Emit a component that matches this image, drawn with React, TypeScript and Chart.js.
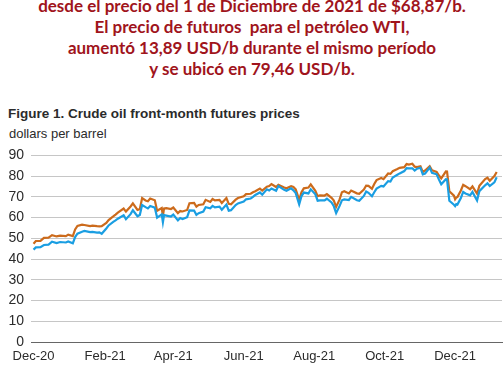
import React, { useEffect, useRef } from "react";
import { Chart, registerables } from "chart.js";

Chart.register(...registerables);

const headlineLines = [
  "desde el precio del 1 de Diciembre de 2021 de $68,87/b.",
  "El precio de futuros  para el petróleo WTI,",
  "aumentó 13,89 USD/b durante el mismo período",
  "y se ubicó en 79,46 USD/b.",
];
const figureTitle = "Figure 1. Crude oil front-month futures prices";
const unitLabel = "dollars per barrel";

const tickDates = ["2020-12-01", "2021-02-01", "2021-04-01", "2021-06-01", "2021-08-01", "2021-10-01", "2021-12-01"];
const tickLabels = ["Dec-20", "Feb-21", "Apr-21", "Jun-21", "Aug-21", "Oct-21", "Dec-21"];
const yTicks = [0, 10, 20, 30, 40, 50, 60, 70, 80, 90];

const dates = [
  "2020-12-01", "2020-12-03", "2020-12-07", "2020-12-10", "2020-12-14", "2020-12-17", "2020-12-21", "2020-12-24", "2020-12-29", "2020-12-31",
  "2021-01-04", "2021-01-06", "2021-01-08", "2021-01-12", "2021-01-14", "2021-01-19", "2021-01-21", "2021-01-25", "2021-01-27", "2021-01-29",
  "2021-02-02", "2021-02-04", "2021-02-08", "2021-02-10", "2021-02-12", "2021-02-17", "2021-02-19", "2021-02-23", "2021-02-25",
  "2021-03-01", "2021-03-03", "2021-03-05", "2021-03-08", "2021-03-10", "2021-03-12", "2021-03-16", "2021-03-18", "2021-03-22", "2021-03-23", "2021-03-24", "2021-03-26", "2021-03-30",
  "2021-04-01", "2021-04-05", "2021-04-07", "2021-04-09", "2021-04-13", "2021-04-15", "2021-04-19", "2021-04-21", "2021-04-23", "2021-04-27", "2021-04-29",
  "2021-05-03", "2021-05-05", "2021-05-07", "2021-05-11", "2021-05-13", "2021-05-17", "2021-05-19", "2021-05-21", "2021-05-25", "2021-05-27",
  "2021-06-01", "2021-06-03", "2021-06-07", "2021-06-09", "2021-06-11", "2021-06-15", "2021-06-17", "2021-06-21", "2021-06-23", "2021-06-25", "2021-06-29",
  "2021-07-01", "2021-07-06", "2021-07-08", "2021-07-12", "2021-07-14", "2021-07-16", "2021-07-19", "2021-07-21", "2021-07-23", "2021-07-27", "2021-07-29",
  "2021-08-02", "2021-08-04", "2021-08-06", "2021-08-10", "2021-08-12", "2021-08-16", "2021-08-18", "2021-08-20", "2021-08-23", "2021-08-25", "2021-08-27", "2021-08-31",
  "2021-09-02", "2021-09-07", "2021-09-09", "2021-09-13", "2021-09-15", "2021-09-17", "2021-09-20", "2021-09-22", "2021-09-24", "2021-09-28", "2021-09-30",
  "2021-10-04", "2021-10-06", "2021-10-08", "2021-10-12", "2021-10-14", "2021-10-18", "2021-10-20", "2021-10-22", "2021-10-25", "2021-10-27", "2021-10-29",
  "2021-11-01", "2021-11-03", "2021-11-05", "2021-11-09", "2021-11-11", "2021-11-15", "2021-11-17", "2021-11-19", "2021-11-23", "2021-11-24", "2021-11-26", "2021-11-30",
  "2021-12-01", "2021-12-02", "2021-12-03", "2021-12-06", "2021-12-08", "2021-12-10", "2021-12-14", "2021-12-16", "2021-12-20", "2021-12-22", "2021-12-27", "2021-12-29", "2021-12-31",
  "2022-01-04", "2022-01-06",
];

const brent = [
  47.42, 48.71, 48.79, 50.25, 50.29, 51.5, 50.91, 51.29, 51.09, 51.8,
  51.09, 54.3, 55.99, 56.58, 56.42, 55.9, 56.1, 55.88, 55.81, 55.88,
  57.46, 58.84, 60.56, 61.47, 62.43, 64.34, 62.91, 65.37, 66.88,
  63.69, 64.07, 69.36, 68.24, 67.9, 69.22, 68.39, 63.28, 64.62, 60.79, 64.41, 64.57, 64.14,
  64.86, 62.15, 63.16, 62.95, 63.67, 66.94, 67.05, 65.32, 66.11, 66.42, 68.56,
  67.56, 68.96, 68.28, 68.55, 67.05, 69.46, 66.66, 66.44, 68.65, 69.46,
  70.25, 71.31, 71.49, 72.22, 72.69, 73.99, 73.08, 74.9, 75.19, 76.18, 74.76,
  75.84, 74.53, 74.12, 75.16, 74.76, 73.59, 68.62, 72.23, 74.1, 74.48, 76.05,
  72.89, 70.38, 70.7, 70.63, 71.31, 69.51, 68.23, 65.18, 68.75, 72.25, 72.7, 71.63,
  73.03, 71.69, 71.45, 73.51, 75.46, 75.34, 73.92, 76.19, 78.09, 79.09, 78.52,
  81.26, 81.08, 82.39, 83.42, 84.0, 84.33, 85.82, 85.53, 85.99, 84.58, 84.38,
  84.71, 81.99, 82.74, 84.78, 82.87, 82.05, 80.28, 78.89, 82.31, 82.25, 72.72, 70.57,
  68.87, 69.67, 69.88, 73.08, 75.82, 75.15, 73.7, 75.02, 71.52, 75.29, 78.6, 79.23, 77.78,
  80.0, 81.99,
];

const wti = [
  44.55, 45.64, 45.76, 46.78, 46.99, 48.36, 47.74, 48.23, 48.0, 48.52,
  47.62, 50.63, 52.24, 53.21, 53.57, 52.98, 53.13, 52.77, 52.85, 52.2,
  54.76, 56.23, 57.97, 58.68, 59.47, 61.14, 59.24, 61.67, 63.53,
  60.64, 61.28, 66.09, 65.05, 64.44, 65.61, 64.8, 60.0, 61.55, 57.76, 61.18, 60.97, 60.55,
  61.45, 58.65, 59.77, 59.32, 60.18, 63.46, 63.38, 61.35, 62.14, 62.94, 65.01,
  64.49, 65.63, 64.9, 65.28, 63.82, 66.27, 63.36, 63.58, 66.07, 66.85,
  67.72, 68.81, 69.23, 69.96, 70.91, 72.12, 71.04, 73.66, 73.08, 74.05, 72.98,
  75.23, 73.37, 72.94, 74.1, 73.13, 71.81, 66.42, 70.3, 72.07, 71.65, 73.62,
  71.26, 68.15, 68.28, 68.29, 69.09, 67.29, 65.46, 62.14, 65.64, 68.36, 68.74, 68.5,
  69.99, 68.35, 68.14, 70.45, 72.61, 71.97, 70.29, 72.23, 73.98, 75.29, 75.03,
  77.62, 77.43, 79.35, 80.64, 81.31, 82.44, 83.87, 83.76, 83.76, 82.66, 83.57,
  84.05, 80.86, 81.27, 84.15, 81.59, 80.88, 78.36, 76.1, 78.5, 78.39, 68.15, 66.18,
  65.57, 66.5, 66.26, 69.49, 72.36, 71.67, 70.73, 72.38, 68.23, 72.76, 75.57, 76.56, 75.21,
  76.99, 79.46,
];

const BASE = Date.UTC(2020, 11, 1);
function dayOf(s: string): number {
  const [y, m, d] = s.split("-").map(Number);
  return Math.round((Date.UTC(y, m - 1, d) - BASE) / 86400000);
}

export default function App() {
  const ref = useRef<HTMLCanvasElement | null>(null);

  useEffect(() => {
    document.body.style.margin = "0";
    if (!ref.current) return;
    const days = dates.map(dayOf);
    const tickDays = tickDates.map(dayOf);
    const chart = new Chart(ref.current, {
      type: "line",
      data: {
        datasets: [
          {
            label: "WTI",
            data: days.map((d, i) => ({ x: d, y: wti[i] })),
            borderColor: "#1a9ee2",
            borderWidth: 2.2,
            pointRadius: 0,
            tension: 0,
            fill: false,
          },
          {
            label: "Brent",
            data: days.map((d, i) => ({ x: d, y: brent[i] })),
            borderColor: "#cc6b1c",
            borderWidth: 2.2,
            pointRadius: 0,
            tension: 0,
            fill: false,
          },
        ],
      },
      options: {
        animation: false,
        responsive: false,
        maintainAspectRatio: false,
        layout: { padding: { top: 9, right: 2, left: 0, bottom: 0 } },
        plugins: { legend: { display: false }, tooltip: { enabled: false }, title: { display: false } },
        scales: {
          x: {
            type: "linear",
            min: -2.2,
            max: 405.6,
            afterBuildTicks: (scale: any) => {
              scale.ticks = tickDays.map((v) => ({ value: v }));
            },
            afterFit: (scale: any) => {
              scale.height = 34;
            },
            grid: { display: false, drawTicks: false },
            border: { display: true, color: "#666666", width: 1 },
            ticks: {
              autoSkip: false,
              maxRotation: 0,
              padding: 7,
              color: "#2b2b2b",
              font: { family: "Liberation Sans, Arial, sans-serif", size: 13 },
              callback: (v: any) => {
                const i = tickDays.indexOf(Number(v));
                return i >= 0 ? tickLabels[i] : "";
              },
            },
          },
          y: {
            min: 0,
            max: 90,
            afterBuildTicks: (scale: any) => {
              scale.ticks = yTicks.map((v) => ({ value: v }));
            },
            afterFit: (scale: any) => {
              scale.width = 31;
            },
            grid: {
              drawTicks: false,
              color: (ctx: any) => (ctx.tick && ctx.tick.value === 0 ? "#666666" : "#c6c6c6"),
              lineWidth: 1,
            },
            border: { display: false },
            ticks: {
              padding: 7,
              color: "#2b2b2b",
              font: { family: "Liberation Sans, Arial, sans-serif", size: 14 },
            },
          },
        },
      },
    } as any);
    return () => chart.destroy();
  }, []);

  return (
    <div style={{ position: "relative", width: 504, height: 376, overflow: "hidden", background: "#fff" }}>
      <div
        style={{
          position: "absolute",
          top: -5,
          left: 0,
          width: 504,
          textAlign: "center",
          color: "#a0141c",
          fontFamily: "Lato, 'Open Sans', sans-serif",
          fontWeight: 700,
          fontSize: 17,
          lineHeight: "21px",
          whiteSpace: "pre",
        }}
      >
        {headlineLines.map((l, i) => (
          <div key={i}>{l}</div>
        ))}
      </div>
      <div
        style={{
          position: "absolute",
          top: 106,
          left: 8,
          fontFamily: "Liberation Sans, Arial, sans-serif",
          fontWeight: 700,
          fontSize: 13.5,
          color: "#2b2b2b",
          whiteSpace: "nowrap",
        }}
      >
        {figureTitle}
      </div>
      <div
        style={{
          position: "absolute",
          top: 126,
          left: 9,
          fontFamily: "Liberation Sans, Arial, sans-serif",
          fontSize: 13,
          color: "#2b2b2b",
          whiteSpace: "nowrap",
        }}
      >
        {unitLabel}
      </div>
      <canvas ref={ref} width={504} height={236} style={{ position: "absolute", left: 0, top: 140, width: 504, height: 236 }} />
    </div>
  );
}
